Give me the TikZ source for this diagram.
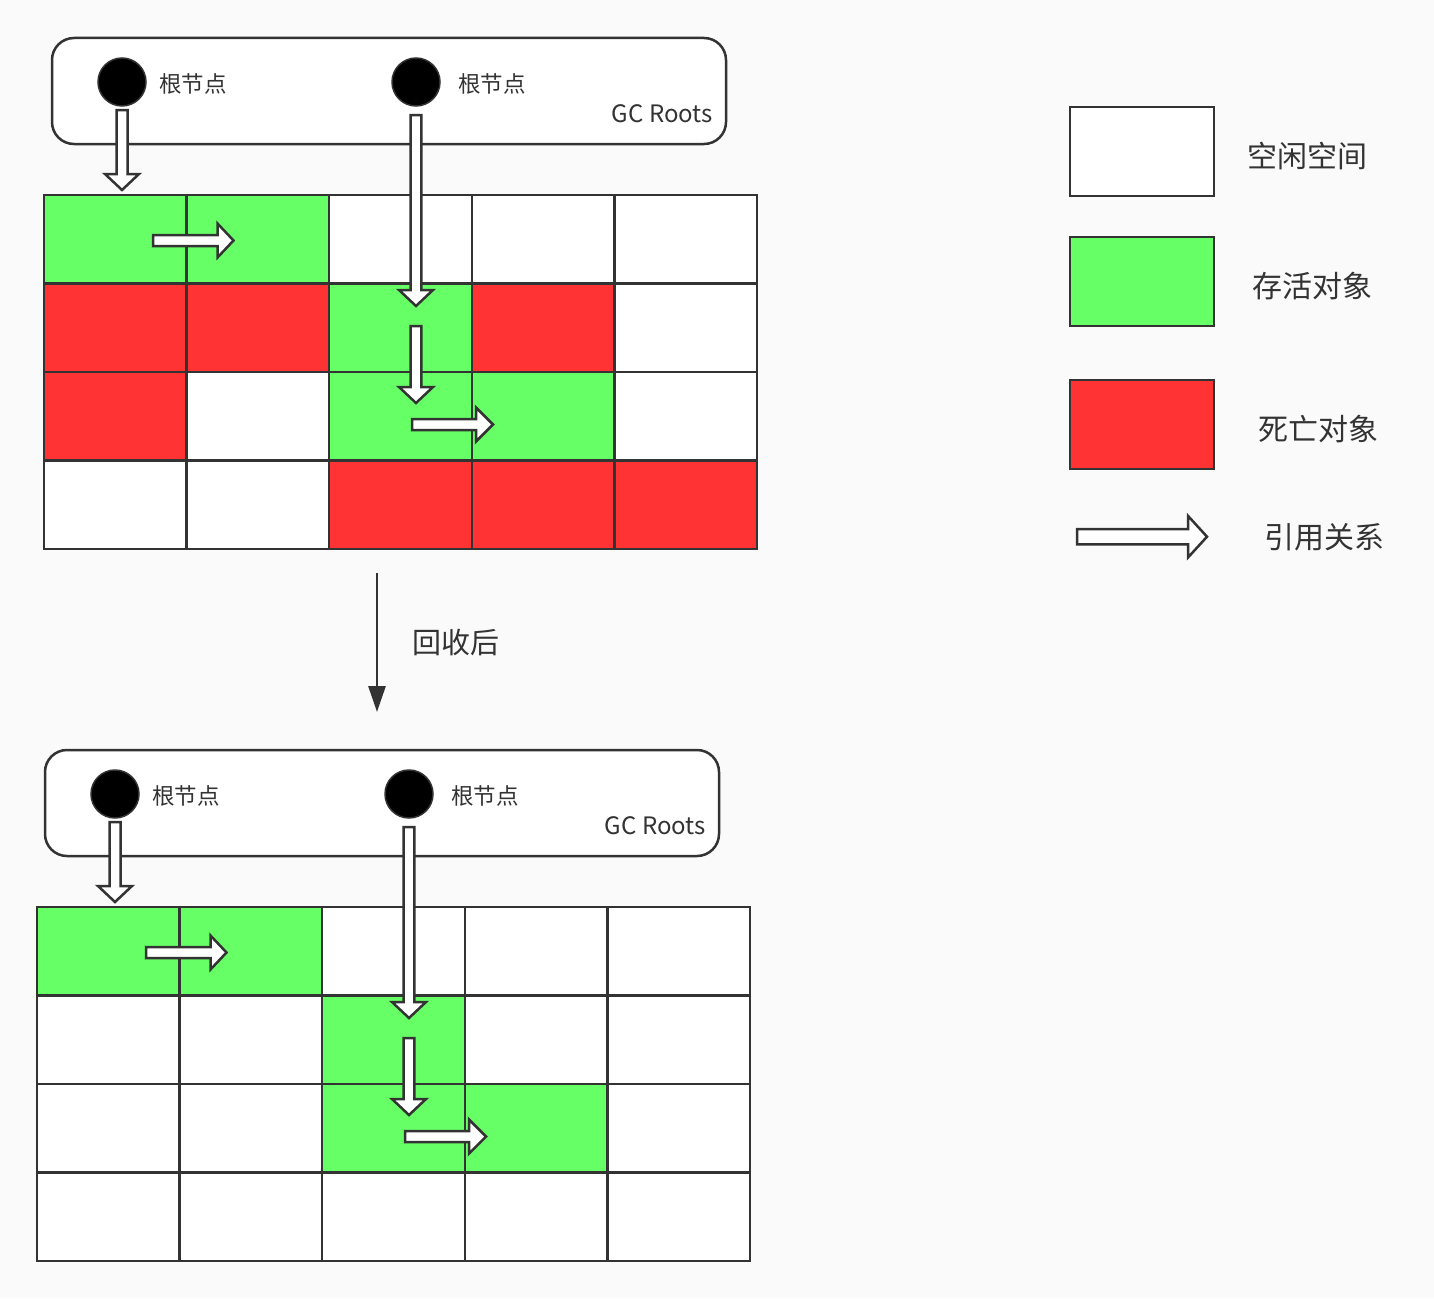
\documentclass[tikz,border=0pt]{standalone}
\usepackage{fontspec}
\setmainfont{Noto Sans CJK SC}
\usetikzlibrary{arrows.meta}
\definecolor{bgc}{HTML}{FAFAFA}
\definecolor{linec}{HTML}{333333}
\definecolor{cg}{HTML}{66FF66}
\definecolor{cr}{HTML}{FF3333}
\definecolor{cw}{HTML}{FFFFFF}
\definecolor{txtc}{HTML}{333333}
\newcommand\fsz[1]{\fontsize{#1}{#1}\selectfont}
% right-pointing block arrow: x0, yc, xtip, half shaft, half head, head length
\newcommand\rblock[6]{\draw[blockarr] (#1,{#2-#4}) -- ({#3-#6},{#2-#4}) -- ({#3-#6},{#2-#5}) -- (#3,#2) -- ({#3-#6},{#2+#5}) -- ({#3-#6},{#2+#4}) -- (#1,{#2+#4}) -- cycle;}
% down-pointing block arrow: xc, y0, ytip, half shaft, half head, head length
\newcommand\dblock[6]{\draw[blockarr] ({#1-#4},#2) -- ({#1-#4},{#3-#6}) -- ({#1-#5},{#3-#6}) -- (#1,#3) -- ({#1+#5},{#3-#6}) -- ({#1+#4},{#3-#6}) -- ({#1+#4},#2) -- cycle;}
\newcommand\gcpanel[2]{%
  \node[gcbox] (#1box) at (52,38) {};
  \node[rootdot] (#1dotA) at (122,82) {};
  \node[rootdot] (#1dotB) at (416,82) {};
  \node[roottxt] (#1lblA) at (159,84) {根节点};
  \node[roottxt] (#1lblB) at (458,84) {根节点};
  \node[gctxt] (#1gc) at (713,114) {GC Roots};
  \foreach \rowlist [count=\r from 0] in {#2} {
    \foreach \c [count=\k from 0] in \rowlist {
      \node[cell, fill=\c] (#1-\r-\k) at ({44+142.6*\k},{195+88.5*\r}) {};
    }
  }
  \dblock{122}{110}{190}{5.5}{17}{16}
  \rblock{153}{240.5}{233.5}{5.5}{17}{16}
  \dblock{416}{115}{306}{5.3}{17}{16}
  \dblock{416}{326}{403}{5.3}{17}{16}
  \rblock{412}{424.5}{493}{5.5}{17}{17}
}
\begin{document}
\begin{tikzpicture}[x=1pt,y=-1pt,
  gcbox/.style={draw=linec, fill=white, line width=2.5pt, rounded corners=22pt, minimum width=674pt, minimum height=106pt, anchor=north west, inner sep=0pt, outer sep=0pt},
  rootdot/.style={circle, fill=black, draw=linec, line width=1.5pt, minimum size=48pt, inner sep=0pt},
  roottxt/.style={anchor=west, inner sep=0pt, text=txtc, font=\fsz{22.5}},
  gctxt/.style={anchor=east, inner sep=0pt, text=txtc, font=\fsz{24}},
  cell/.style={draw=linec, line width=2.5pt, minimum width=142.6pt, minimum height=88.5pt, anchor=north west, inner sep=0pt, outer sep=0pt},
  legbox/.style={draw=linec, line width=2.5pt, minimum width=144pt, minimum height=89pt, anchor=north west, inner sep=0pt, outer sep=0pt},
  legtxt/.style={anchor=west, inner sep=0pt, text=txtc, font=\fsz{30}},
  blockarr/.style={draw=linec, fill=white, line width=2.5pt, line join=miter},
]
\fill[bgc] (0,0) rectangle (1434,1298);
\useasboundingbox (0,0) rectangle (1434,1298);

\begin{scope}
\gcpanel{t}{{cg,cg,cw,cw,cw},{cr,cr,cg,cr,cw},{cr,cw,cg,cg,cw},{cw,cw,cr,cr,cr}}
\end{scope}

\begin{scope}[shift={(-7,712)}]
\gcpanel{b}{{cg,cg,cw,cw,cw},{cw,cw,cg,cw,cw},{cw,cw,cg,cg,cw},{cw,cw,cw,cw,cw}}
\end{scope}

% collection arrow
\coordinate (gcA) at (377,573);
\coordinate (gcB) at (377,712);
\draw[linec, line width=2.8pt, -{Triangle[length=26pt,width=17pt]}] (gcA) -- (gcB);
\node[anchor=west, inner sep=0pt, text=txtc, font=\fsz{29}] (after) at (412,643) {回收后};

% legend
\node[legbox, fill=cw] (legW) at (1070,107) {};
\node[legbox, fill=cg] (legG) at (1070,237) {};
\node[legbox, fill=cr] (legR) at (1070,380) {};
\node[legtxt] (legWt) at (1247,156) {空闲空间};
\node[legtxt] (legGt) at (1252,286) {存活对象};
\node[legtxt] (legRt) at (1258,429) {死亡对象};
\node[legtxt] (legAt) at (1264,537) {引用关系};
\rblock{1077}{536.7}{1207}{7.7}{20.8}{19}
\end{tikzpicture}
\end{document}
